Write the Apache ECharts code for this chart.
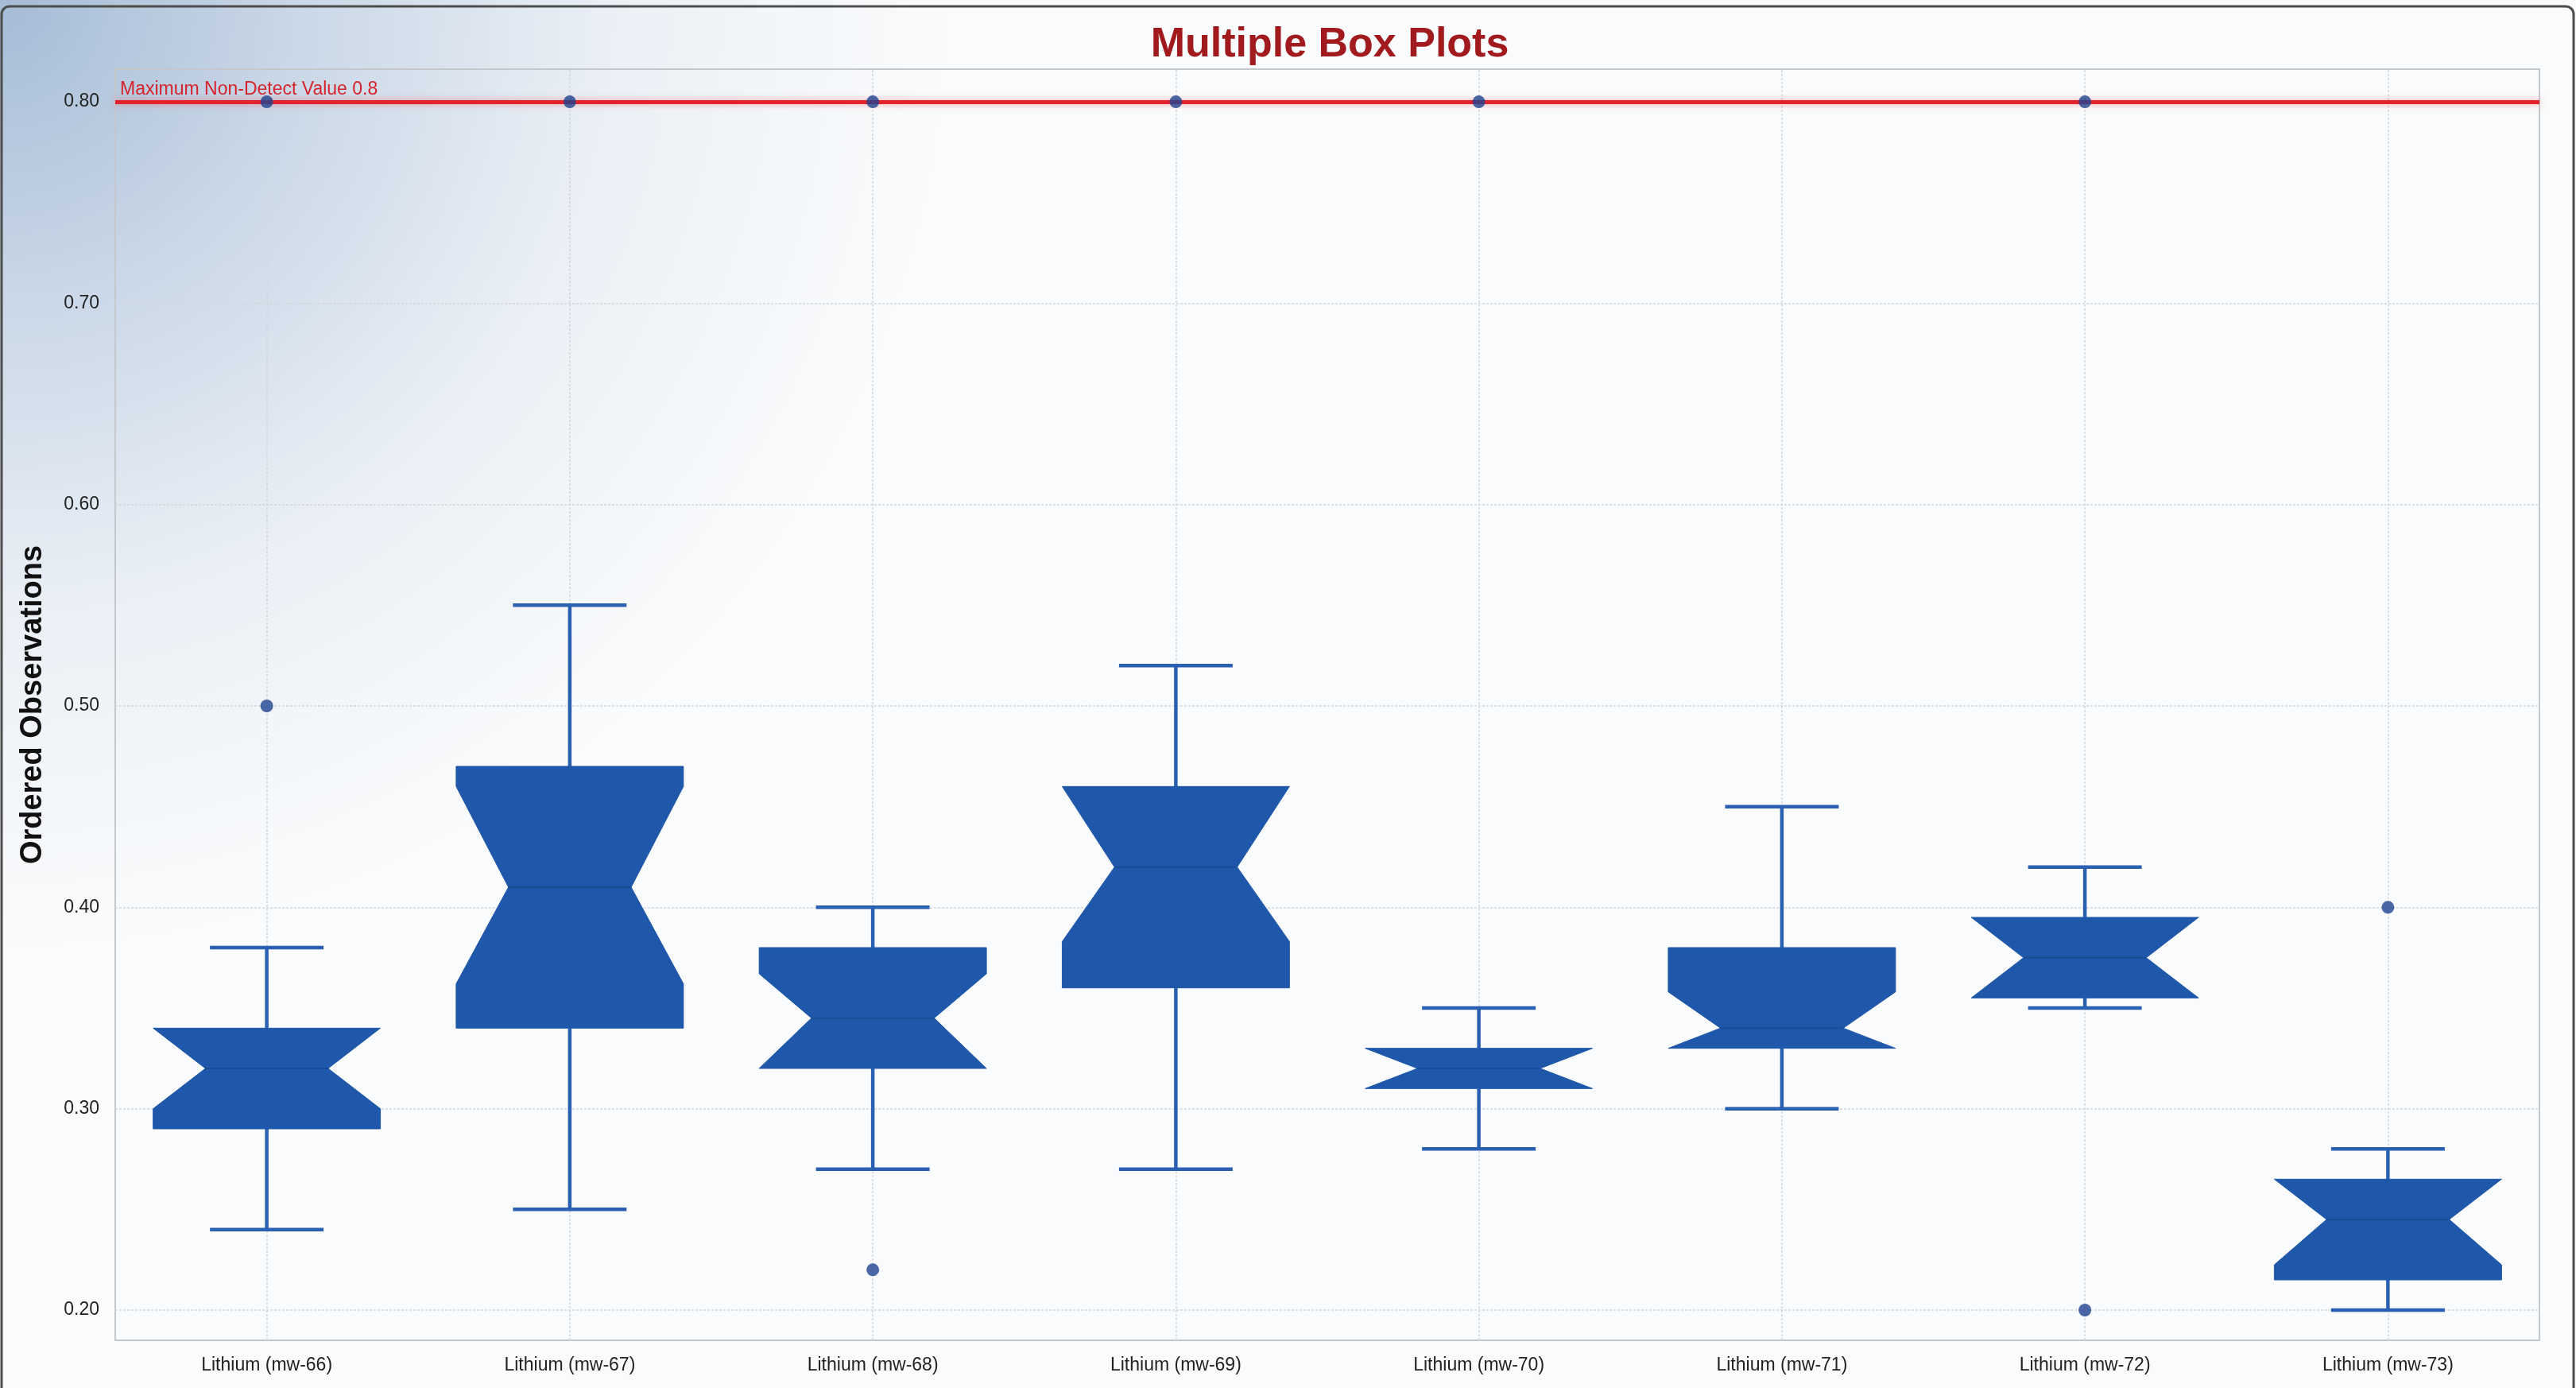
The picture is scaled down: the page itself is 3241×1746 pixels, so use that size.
<!DOCTYPE html>
<html>
<head>
<meta charset="utf-8">
<title>Multiple Box Plots</title>
<script src="https://cdn.jsdelivr.net/npm/echarts@6/dist/echarts.min.js"></script>
<style>
  html, body { margin: 0; padding: 0; background: #ffffff; }
  #chart { width: 3241px; height: 1746px; }
</style>
</head>
<body>
<div id="chart"></div>
<script>
// Well labels along the horizontal axis
const categories = [
  'Lithium (mw-66)', 'Lithium (mw-67)', 'Lithium (mw-68)', 'Lithium (mw-69)',
  'Lithium (mw-70)', 'Lithium (mw-71)', 'Lithium (mw-72)', 'Lithium (mw-73)'
];

// Five-number summaries per well
const whiskerLow  = [0.24, 0.25, 0.27, 0.27, 0.28, 0.30, 0.35, 0.20];
const quartile1   = [0.29, 0.34, 0.32, 0.36, 0.31, 0.33, 0.355, 0.215];
const medians     = [0.32, 0.41, 0.345, 0.42, 0.32, 0.34, 0.375, 0.245];
const quartile3   = [0.34, 0.47, 0.38, 0.46, 0.33, 0.38, 0.395, 0.265];
const whiskerHigh = [0.38, 0.55, 0.40, 0.52, 0.35, 0.45, 0.42, 0.28];

// Notch limits around each median
const notchLow  = [0.30, 0.362, 0.32, 0.383, 0.31, 0.33, 0.355, 0.2225];
const notchHigh = [0.34, 0.46, 0.367, 0.46, 0.33, 0.358, 0.395, 0.265];

// Observations outside the whiskers: [well index, value]
const outliers = [
  [0, 0.50], [0, 0.80],
  [1, 0.80],
  [2, 0.22], [2, 0.80],
  [3, 0.80],
  [4, 0.80],
  [6, 0.20], [6, 0.80],
  [7, 0.40]
];

// Reference line
const maxNonDetect = 0.8;

// Value-axis ticks
const yTicks = [0.2, 0.3, 0.4, 0.5, 0.6, 0.7, 0.8];

const boxData = categories.map((c, i) => [
  i, whiskerLow[i], quartile1[i], notchLow[i], medians[i], notchHigh[i], quartile3[i], whiskerHigh[i]
]);

const BOX_COLOR = '#1f58aa';
const WHISKER_COLOR = '#2a60b2';
const FONT = 'Liberation Sans, Arial, sans-serif';

function renderNotchedBox(params, api) {
  const idx = api.value(0);
  const low = api.value(1), q1 = api.value(2), nLo = api.value(3), med = api.value(4);
  const nHi = api.value(5), q3 = api.value(6), high = api.value(7);
  const band = api.size([1, 0])[0];
  const boxW = band * 0.75;
  const capW = boxW * 0.5;
  const cx = api.coord([idx, med])[0];
  const y = v => api.coord([idx, v])[1];
  const L = cx - boxW / 2, R = cx + boxW / 2;
  const ind = boxW * 0.23;
  const yq1 = y(q1), yq3 = y(q3), ym = y(med);
  const yHi = y(Math.min(nHi, q3));
  const yLo = y(Math.max(nLo, q1));
  const pts = [
    [L, yq3], [R, yq3], [R, yHi], [R - ind, ym], [R, yLo], [R, yq1],
    [L, yq1], [L, yLo], [L + ind, ym], [L, yHi]
  ];
  const wStyle = { stroke: WHISKER_COLOR, lineWidth: 4.5, fill: null };
  return {
    type: 'group',
    children: [
      { type: 'line', shape: { x1: cx, y1: yq3, x2: cx, y2: y(high) }, style: wStyle },
      { type: 'line', shape: { x1: cx - capW / 2, y1: y(high), x2: cx + capW / 2, y2: y(high) }, style: wStyle },
      { type: 'line', shape: { x1: cx, y1: yq1, x2: cx, y2: y(low) }, style: wStyle },
      { type: 'line', shape: { x1: cx - capW / 2, y1: y(low), x2: cx + capW / 2, y2: y(low) }, style: wStyle },
      { type: 'polygon', shape: { points: pts }, style: { fill: BOX_COLOR, stroke: BOX_COLOR, lineWidth: 1 } },
      { type: 'line', shape: { x1: L + ind, y1: ym, x2: R - ind, y2: ym }, style: { stroke: '#194b94', lineWidth: 2 } }
    ]
  };
}

const gridLineStyle = { color: '#d2d6dc', width: 1.5, type: [3, 2] };

const chart = echarts.init(document.getElementById('chart'));
chart.setOption({
  backgroundColor: {
    type: 'radial', x: 0, y: 0, r: 0.68,
    colorStops: [
      { offset: 0, color: '#a5bcd6' },
      { offset: 0.3, color: '#c8d6e6' },
      { offset: 0.65, color: '#ebf0f6' },
      { offset: 1, color: '#fafbfc' }
    ]
  },
  animation: false,
  title: {
    text: 'Multiple Box Plots',
    left: 1668,
    textAlign: 'center',
    top: 26,
    textStyle: { fontFamily: FONT, fontSize: 52, fontWeight: 'bold', color: '#a11a1e' }
  },
  graphic: [
    {
      type: 'rect', z: 100, silent: true,
      shape: { x: 2, y: 8, width: 3236, height: 1750, r: 10 },
      style: { fill: null, stroke: '#4d4d4d', lineWidth: 3 }
    }
  ],
  grid: {
    left: 145, right: 46, top: 87, bottom: 60,
    show: true, borderColor: '#c4c7cc', borderWidth: 2, backgroundColor: 'transparent'
  },
  xAxis: {
    type: 'category',
    data: categories,
    boundaryGap: true,
    axisLine: { show: false },
    axisTick: { show: false },
    splitLine: { show: false },
    axisLabel: { fontFamily: FONT, fontSize: 23, color: '#222', margin: 20 }
  },
  yAxis: {
    type: 'value',
    min: 0.185,
    max: 0.8162,
    name: 'Ordered Observations',
    nameLocation: 'middle',
    nameRotate: 90,
    nameGap: 84,
    nameTextStyle: { fontFamily: FONT, fontSize: 38, fontWeight: 'bold', color: '#111' },
    axisLine: { show: false },
    axisTick: { show: false, customValues: yTicks },
    splitLine: { show: false },
    axisLabel: {
      customValues: yTicks,
      fontFamily: FONT, fontSize: 23, color: '#222', margin: 20,
      formatter: v => v.toFixed(2)
    }
  },
  series: [
    {
      // grid lines and the non-detect reference line
      type: 'line',
      data: [],
      z: 1,
      silent: true,
      markLine: {
        z: 1,
        silent: true,
        symbol: 'none',
        animation: false,
        data: [
          ...categories.map(c => ({ xAxis: c, lineStyle: gridLineStyle, label: { show: false } })),
          ...yTicks.filter(t => t !== maxNonDetect).map(t => ({ yAxis: t, lineStyle: gridLineStyle, label: { show: false } })),
          {
            yAxis: maxNonDetect,
            lineStyle: { color: '#e3232b', width: 5, type: 'solid', shadowColor: 'rgba(240,80,90,0.55)', shadowBlur: 8 },
            label: {
              show: true,
              position: 'insideStartTop',
              distance: [6, 4],
              formatter: 'Maximum Non-Detect Value ' + maxNonDetect,
              fontFamily: FONT, fontSize: 23, color: '#d6232b'
            }
          }
        ]
      }
    },
    {
      type: 'custom',
      z: 10,
      renderItem: renderNotchedBox,
      encode: { x: 0, y: [1, 2, 3, 4, 5, 6, 7] },
      data: boxData
    },
    {
      type: 'scatter',
      z: 12,
      symbol: 'circle',
      symbolSize: 16,
      itemStyle: { color: '#1e4290' },
      data: outliers.map(o => [categories[o[0]], o[1]])
    }
  ]
});
</script>
</body>
</html>
